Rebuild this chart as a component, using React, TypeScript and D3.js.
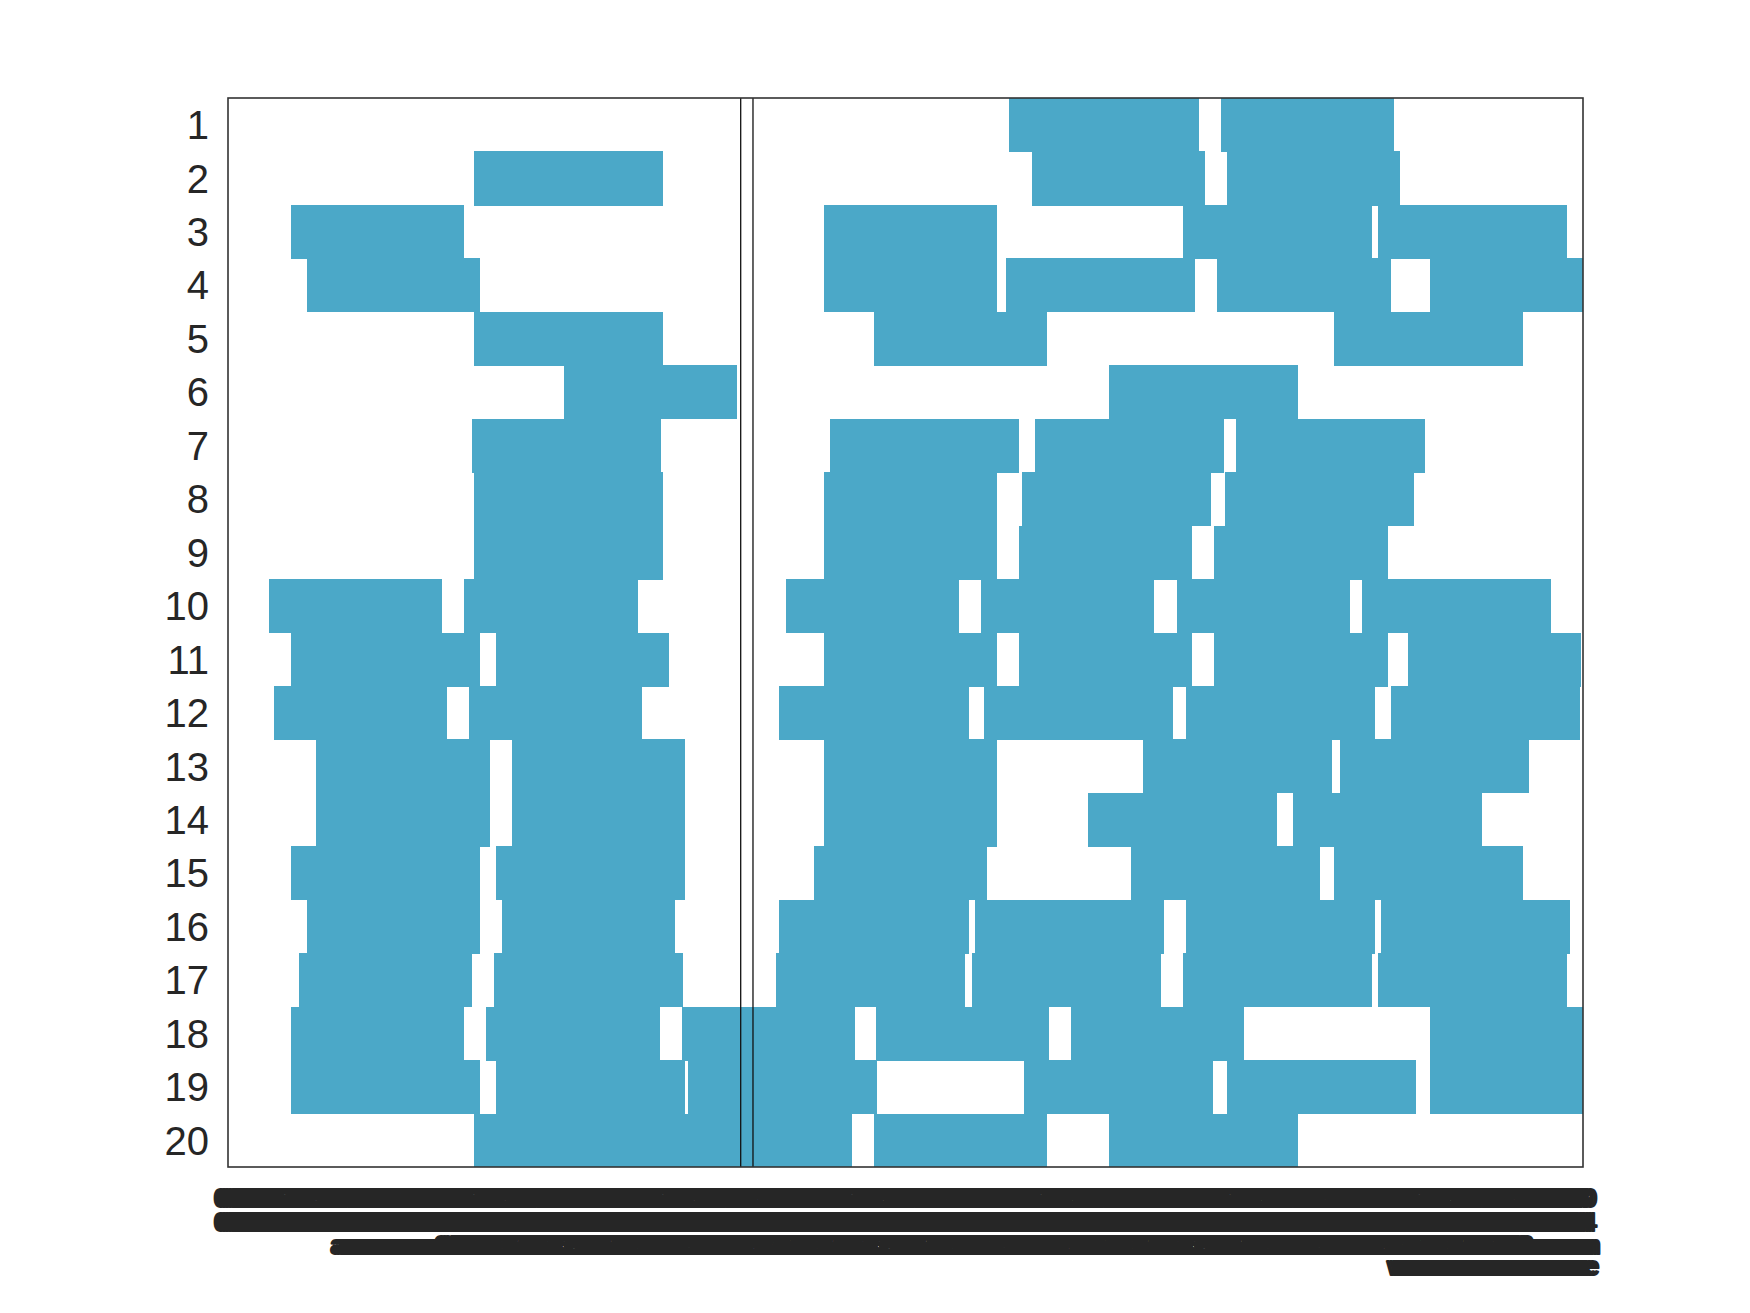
import React from 'react';
import * as d3 from 'd3';

// ---------- data ----------
const rowLabels: string[] = d3.range(1, 21).map(String);

// Each row: list of [start, end] intervals (minutes from schedule start)
const rowIntervals: [number, number][][] = [
  [[248, 308], [315, 370]],
  [[78, 138], [255, 310], [317, 372]],
  [[20, 75], [189, 244], [303, 363], [365, 425]],
  [[25, 80], [189, 244], [247, 307], [314, 369], [381.5, 436.5]],
  [[78, 138], [205, 260], [351, 411]],
  [[106.5, 161.5], [279.5, 339.5]],
  [[77.5, 137.5], [191, 251], [256, 316], [320, 380]],
  [[78, 138], [189, 244], [252, 312], [316.5, 376.5]],
  [[78, 138], [189, 244], [251, 306], [313, 368]],
  [[13, 68], [75, 130], [177, 232], [239, 294], [301, 356], [360, 420]],
  [[20, 80], [85, 140], [189, 244], [251, 306], [313, 368], [374.5, 429.5]],
  [[14.5, 69.5], [76.5, 131.5], [175, 235], [240, 300], [304, 364], [369, 429]],
  [[28, 83], [90, 145], [189, 244], [290.5, 350.5], [353, 413]],
  [[28, 83], [90, 145], [189, 244], [273, 333], [338, 398]],
  [[20, 80], [85, 145], [186, 241], [286.5, 346.5], [351, 411]],
  [[25, 80], [87, 142], [175, 235], [237, 297], [304, 364], [366, 426]],
  [[22.5, 77.5], [84.5, 144.5], [174, 234], [236, 296], [303, 363], [365, 425]],
  [[20, 75], [82, 137], [144, 199], [205.5, 260.5], [267.5, 322.5], [381.5, 436.5]],
  [[20, 80], [85, 145], [146, 206], [252.5, 312.5], [317, 377], [381.5, 441.5]],
  [[78, 138], [138, 198], [205, 260], [279.5, 339.5]],
];

const markerLines: number[] = [162.7, 166.6];
const xDomain: [number, number] = [0, 430];
const tickValues: number[] = d3.range(0, 431, 1);

// ---------- layout ----------
const W = 1750;
const H = 1313;
const plotLeft = 228;
const plotRight = 1583;
const plotTop = 98;
const plotBottom = 1167;
const barColor = '#4ba8c8';
const textColor = '#262626';

const pad2 = (n: number) => String(n).padStart(2, '0');

function tickLines(u: number): string[] {
  const mm = pad2(u % 60);
  const hh = pad2(7 + Math.floor(u / 60));
  const lines = [mm, hh];
  if (u >= 38 && u < 70) lines.push('am');
  else if (u >= 70 && u <= 410) lines.push(pad2((u * 7) % 100));
  else if (u > 410) lines.push('am');
  else lines.push('');
  if (u >= 373) lines.push('we');
  return lines;
}

export default function App() {
  const x = d3.scaleLinear().domain(xDomain).range([plotLeft, plotRight]);
  const y = d3
    .scaleBand<string>()
    .domain(rowLabels)
    .range([plotTop, plotBottom])
    .padding(0);
  const bw = y.bandwidth();

  const lineBaselines = [1207, 1231, 1254, 1275];

  return (
    <svg
      width={W}
      height={H}
      style={{ position: 'absolute', left: 0, top: 0, background: '#fff' }}
      fontFamily="'Liberation Sans', Arial, sans-serif"
    >
      <defs>
        <clipPath id="plotClip">
          <rect x={plotLeft} y={plotTop} width={plotRight - plotLeft} height={plotBottom - plotTop} />
        </clipPath>
      </defs>
      <rect x={0} y={0} width={W} height={H} fill="#fff" />

      <g clipPath="url(#plotClip)" shapeRendering="crispEdges">
        {rowIntervals.map((ivs, ri) =>
          ivs.map(([s, e], i) => (
            <rect
              key={`${ri}-${i}`}
              x={x(s)}
              y={y(rowLabels[ri])}
              width={x(e) - x(s)}
              height={bw + 0.6}
              fill={barColor}
            />
          ))
        )}
      </g>
      <g clipPath="url(#plotClip)">
        {markerLines.map((m, i) => (
          <line
            key={`m${i}`}
            x1={x(m)}
            x2={x(m)}
            y1={plotTop}
            y2={plotBottom}
            stroke="#111"
            strokeWidth={1.3}
          />
        ))}
      </g>

      <rect
        x={plotLeft}
        y={plotTop}
        width={plotRight - plotLeft}
        height={plotBottom - plotTop}
        fill="none"
        stroke="#333"
        strokeWidth={1.6}
      />

      {rowLabels.map((lab) => (
        <text
          key={lab}
          x={209}
          y={(y(lab) as number) + bw / 2}
          dy="0.36em"
          textAnchor="end"
          fontSize={40}
          fill={textColor}
        >
          {lab}
        </text>
      ))}

      <g
        fill={textColor}
        stroke={textColor}
        strokeWidth={1.8}
        strokeLinejoin="round"
        fontSize={26}
        textAnchor="middle"
      >
        {tickValues.map((u) => {
          const lines = tickLines(u);
          return (
            <text key={u} x={x(u)} y={lineBaselines[0]}>
              {lines.map((ln, li) =>
                ln ? (
                  <tspan key={li} x={x(u)} y={lineBaselines[li]}>
                    {ln}
                  </tspan>
                ) : null
              )}
            </text>
          );
        })}
      </g>
    </svg>
  );
}
